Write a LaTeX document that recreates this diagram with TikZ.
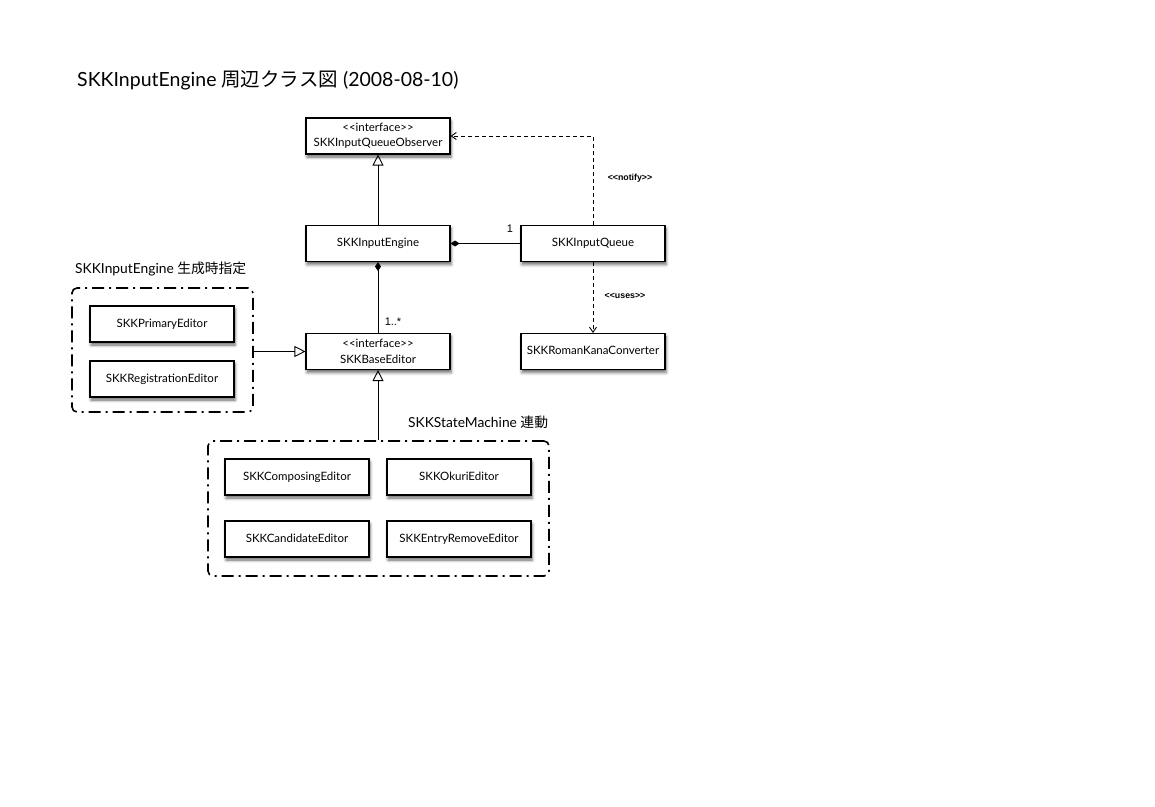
\documentclass[tikz,border=0pt]{standalone}
\usepackage{fontspec}
\usepackage{tikz}
\usetikzlibrary{arrows.meta,shadows.blur}
\setmainfont{Lato}
\newfontfamily\jpfont{Noto Sans CJK JP}
\newfontfamily\helv{Liberation Sans}
\newcommand{\ltlt}{<\kern0pt<}
\newcommand{\gtgt}{>\kern0pt>}
\tikzset{
  cls/.style={draw, fill=white, line width=1.1pt, minimum width=144pt, minimum height=36pt,
    inner sep=0pt, align=center, font=\fontsize{11.5}{13}\selectfont,
    text height=8.5pt, text depth=2.5pt,
    blur shadow={shadow xshift=1pt, shadow yshift=-3pt, shadow blur radius=3pt, shadow opacity=60}},
  iface/.style={cls, text height={}, text depth={}, font=\fontsize{11.5}{15.5}\selectfont},
  grp/.style={draw, line width=1.6pt, rounded corners=5pt, inner sep=0pt,
    dash pattern=on 12pt off 5pt on 2pt off 5pt},
  grplabel/.style={anchor=west, inner sep=0pt, font=\fontsize{13.8}{16}\selectfont},
  gen/.style={line width=0.9pt, -{Triangle[open, length=11pt, width=11pt]}},
  dep/.style={line width=0.9pt, dash pattern=on 4pt off 3pt, -{Straight Barb[length=5pt, width=7pt]}},
  comp/.style={line width=0.9pt, {Diamond[length=9pt, width=6pt]}-},
  stereo/.style={font=\helv\bfseries\fontsize{8.8}{10}\selectfont},
  mult/.style={font=\helv\fontsize{11}{12}\selectfont}
}
\begin{document}
\begin{tikzpicture}[x=1pt, y=-1pt]
			\useasboundingbox (0,0) rectangle (1155,806);
			\node (title) at (77,80) [anchor=west, inner sep=0pt, font=\fontsize{19.5}{22}\selectfont] {SKKInputEngine {\jpfont 周辺クラス図} (2008-08-10)};
			% classes
			\node (observer) at (378,136) [iface] {\ltlt interface\gtgt\\SKKInputQueueObserver};
			\node (engine) at (378,243.5) [cls] {SKKInputEngine};
			\node (queue) at (593,243.5) [cls] {SKKInputQueue};
			\node (base) at (378,351.5) [iface] {\ltlt interface\gtgt\\SKKBaseEditor};
			\node (romankana) at (593,351.5) [cls] {SKKRomanKanaConverter};
			% editors given at creation
			\node (grpcreate) at (162.5,350) [grp, minimum width=181pt, minimum height=124pt] {};
			\node (createlabel) at (75,269) [grplabel] {SKKInputEngine {\jpfont 生成時指定}};
			\node (primary) at (162,324) [cls] {SKKPrimaryEditor};
			\node (registration) at (162,379) [cls] {SKKRegistrationEditor};
			% editors driven by the state machine
			\node (grpstate) at (378.5,508.5) [grp, minimum width=341pt, minimum height=135pt] {};
			\node (statelabel) at (408,422) [grplabel] {SKKStateMachine {\jpfont 連動}};
			\node (composing) at (297,477) [cls] {SKKComposingEditor};
			\node (okuri) at (459,477) [cls] {SKKOkuriEditor};
			\node (candidate) at (297,539) [cls] {SKKCandidateEditor};
			\node (entryremove) at (459,539) [cls] {SKKEntryRemoveEditor};
			% relations
			\draw[gen] (engine) -- (observer);
			\draw[dep] (queue.north) |- (observer.east);
			\node (notify) at (630,178) [stereo] {\ltlt notify\gtgt};
			\draw[comp] (engine.east) -- (queue.west);
			\node (one) at (510,229) [mult] {1};
			\draw[comp] (engine.south) -- (base.north);
			\node (many) at (393,322) [mult] {1..*};
			\draw[dep] (queue.south) -- (romankana.north);
			\node (uses) at (625,296) [stereo] {\ltlt uses\gtgt};
			\draw[gen] (grpcreate.east |- base.west) -- (base.west);
			\draw[gen] (grpstate.north -| base.south) -- (base.south);
			\end{tikzpicture}
\end{document}
